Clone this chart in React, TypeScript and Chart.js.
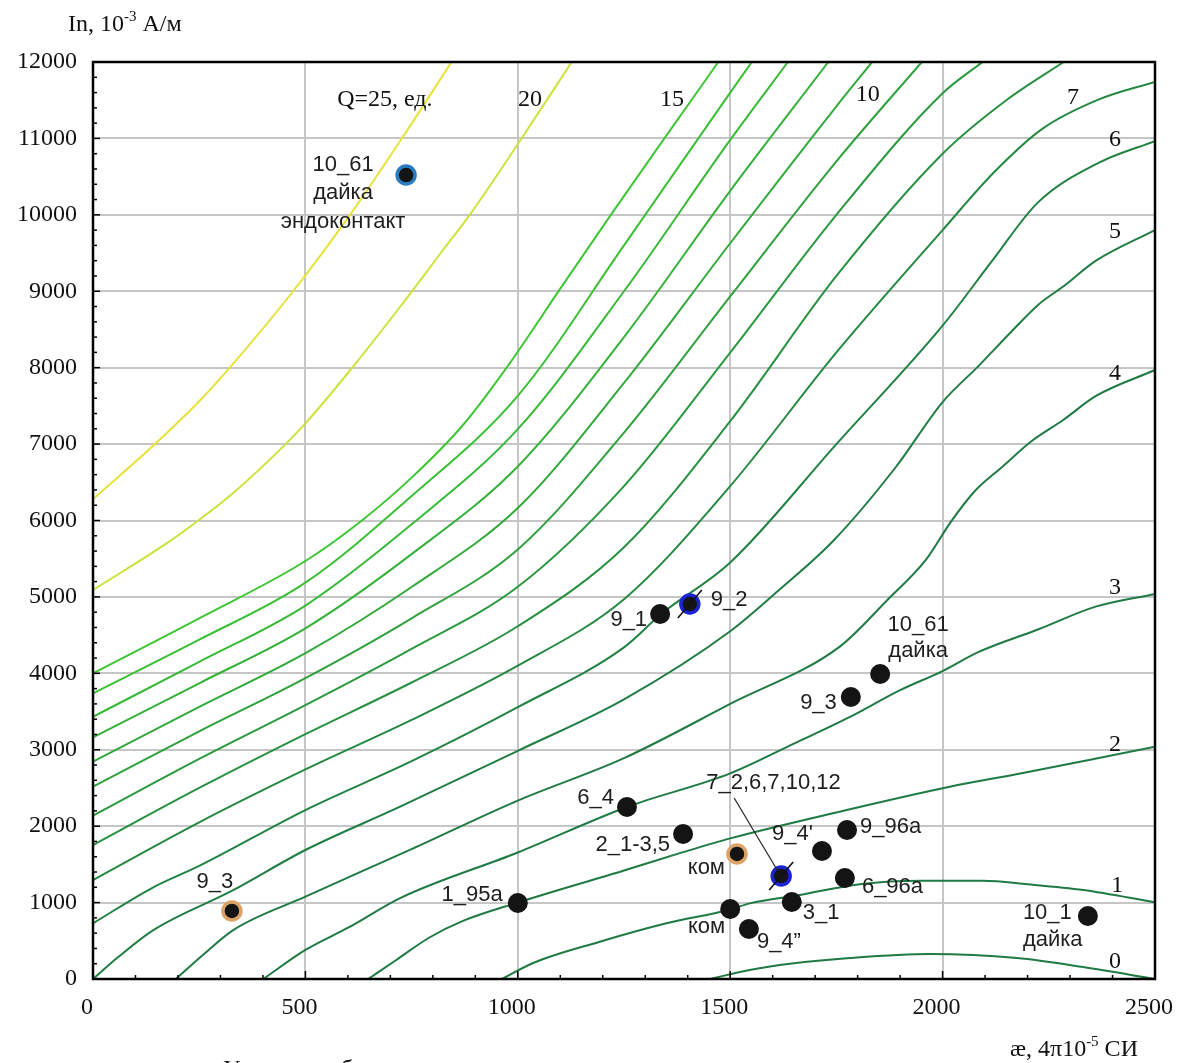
import React, { useEffect, useRef } from "react";
import { Chart, registerables } from "chart.js";

Chart.register(...registerables);

const SERIF = '"Liberation Serif", "Times New Roman", serif';
const SANS = '"Liberation Sans", Arial, sans-serif';

// ---- Q-curves (x = æ, y = In) ----
const Q0: number[][] = [[1452, 0], [1546, 118], [1650, 205], [1782, 275], [1970, 327], [2175, 275], [2331, 157], [2500, 0]];
const Q1: number[][] = [[963, 0], [1036, 209], [1193, 488], [1350, 729], [1500, 910], [1546, 990], [1664, 1100], [1805, 1240], [1950, 1285], [2095, 1285], [2200, 1240], [2331, 1165], [2500, 1004]];
const Q2: number[][] = [[648, 0], [713, 245], [792, 543], [871, 760], [1000, 1000], [1250, 1420], [1389, 1660], [1500, 1840], [1750, 2180], [2017, 2516], [2180, 2686], [2359, 2882], [2500, 3040]];
const Q3: number[][] = [[401, 0], [500, 380], [605, 684], [723, 1059], [1000, 1656], [1257, 2251], [1500, 2690], [1650, 3080], [1782, 3430], [1900, 3780], [2000, 4030], [2085, 4280], [2226, 4577], [2362, 4876], [2500, 5040]];
const Q4: number[][] = [[195, 0], [260, 320], [330, 640], [500, 1077], [750, 1700], [1000, 2335], [1250, 2890], [1500, 3600], [1758, 4350], [1870, 4960], [1960, 5480], [2019, 5979], [2077, 6392], [2143, 6714], [2209, 7036], [2283, 7312], [2362, 7633], [2500, 7969]];
const Q5: number[][] = [[0, 0], [60, 290], [142, 640], [330, 1163], [500, 1688], [723, 2255], [1000, 2986], [1250, 3660], [1500, 4550], [1617, 5100], [1744, 5742], [1890, 6700], [2000, 7550], [2085, 8024], [2160, 8460], [2226, 8828], [2283, 9058], [2362, 9403], [2500, 9800]];
const Q6: number[][] = [[0, 729], [142, 1200], [250, 1480], [500, 2211], [750, 2850], [1000, 3557], [1250, 4340], [1337, 4773], [1500, 5450], [1750, 7000], [2000, 8550], [2117, 9400], [2224, 10160], [2368, 10682], [2500, 10965]];
const Q7: number[][] = [[0, 1295], [250, 2050], [500, 2742], [750, 3390], [1000, 4100], [1250, 4970], [1500, 6450], [1750, 8200], [2000, 9800], [2120, 10550], [2233, 11118], [2368, 11510], [2500, 11740]];
const Q8: number[][] = [[0, 1753], [250, 2500], [500, 3204], [750, 3880], [1000, 4616], [1250, 5650], [1500, 7300], [1750, 9200], [2000, 10800], [2150, 11500], [2285, 12000]];
const Q9: number[][] = [[0, 2137], [250, 2880], [500, 3584], [750, 4320], [1000, 5132], [1250, 6450], [1500, 8198], [1750, 10000], [2000, 11590], [2094, 12000]];
const Q10: number[][] = [[0, 2517], [250, 3240], [500, 3937], [750, 4720], [1000, 5621], [1250, 7150], [1500, 8933], [1750, 10700], [1951, 12000]];
const Q11: number[][] = [[0, 2844], [250, 3560], [500, 4263], [750, 5130], [1000, 6164], [1250, 7800], [1500, 9628], [1750, 11420], [1834, 12000]];
const Q12: number[][] = [[0, 3162], [250, 3870], [500, 4589], [750, 5560], [1000, 6707], [1250, 8400], [1500, 10314], [1731, 12000]];
const Q13: number[][] = [[0, 3432], [250, 4150], [500, 4887], [750, 5950], [1000, 7196], [1250, 9000], [1500, 10980], [1636, 12000]];
const Q14: number[][] = [[0, 3738], [250, 4440], [500, 5186], [750, 6320], [1000, 7631], [1250, 9600], [1500, 11600], [1551, 12000]];
const Q15: number[][] = [[0, 4000], [250, 4720], [500, 5470], [633, 6001], [752, 6571], [871, 7250], [975, 8011], [1102, 9050], [1219, 10000], [1345, 11000], [1472, 12000]];
const Q20: number[][] = [[0, 5090], [173, 5700], [248, 6000], [330, 6360], [450, 6980], [500, 7270], [612, 8012], [723, 8797], [824, 9540], [887, 10000], [997, 10900], [1127, 12000]];
const Q25: number[][] = [[0, 6280], [146, 7000], [250, 7560], [322, 8000], [471, 9000], [605, 10000], [727, 11000], [844, 12000]];

const curveList = [Q0, Q1, Q2, Q3, Q4, Q5, Q6, Q7, Q8, Q9, Q10, Q11, Q12, Q13, Q14, Q15, Q20, Q25];
const curveColors = [
  "#1f7a44", "#1f7a44", "#1f7a44", "#1f7a44", "#1f7a44", "#207d44", "#228243", "#258942",
  "#289141", "#2b993f", "#2fa13d", "#32a93b", "#35b139", "#38b937", "#3bc035", "#3ec634",
  "#cde33c", "#e8e23a",
];

// curve labels
const curveLabelText = ["Q=25, ед.", "20", "15", "10", "7", "6", "5", "4", "3", "2", "1", "0"];
const curveLabelX = [687, 1029, 1363, 1824, 2307, 2406, 2406, 2406, 2406, 2406, 2411, 2406];
const curveLabelY = [11502, 11502, 11502, 11567, 11528, 10979, 9775, 7917, 5117, 3070, 1215, 220];

// ---- samples ----
const sampleX = [737, 1335, 1405, 1853, 1784, 1257, 1389, 1516, 1620, 1716, 1775, 1770, 1645, 1500, 1544, 2342, 1000, 327];
const sampleY = [10521, 4776, 4907, 3991, 3690, 2251, 1897, 1636, 1348, 1675, 1950, 1322, 1008, 916, 654, 824, 995, 890];
const sampleRing = ["endo", "", "blue", "", "", "", "", "orange", "blue", "", "", "", "", "", "", "", "", "orange"];
const sampleText: string[][] = [
  ["10_61", "дайка", "эндоконтакт"], ["9_1"], ["9_2"], ["10_61", "дайка"], ["9_3"], ["6_4"], ["2_1-3,5"], ["ком"],
  ["7_2,6,7,10,12"], ["9_4'"], ["9_96а"], ["6_96а"], ["3_1"], ["ком"], ["9_4”"], ["10_1", "дайка"], ["1_95а"], ["9_3"],
];
// label placement (pixels relative to marker)
const labelLayout: { dx: number; dy: number[]; align: CanvasTextAlign }[] = [
  { dx: -63, dy: [-10, 18, 47], align: "center" },
  { dx: -13, dy: [6], align: "right" },
  { dx: 21, dy: [-4], align: "left" },
  { dx: 38, dy: [-49, -23], align: "center" },
  { dx: -14, dy: [6], align: "right" },
  { dx: -13, dy: [-9], align: "right" },
  { dx: -13, dy: [11], align: "right" },
  { dx: -12, dy: [14], align: "right" },
  { dx: -75, dy: [-93], align: "left" },
  { dx: -9, dy: [-17], align: "right" },
  { dx: 13, dy: [-3], align: "left" },
  { dx: 17, dy: [9], align: "left" },
  { dx: 11, dy: [11], align: "left" },
  { dx: -5, dy: [18], align: "right" },
  { dx: 8, dy: [13], align: "left" },
  { dx: -65, dy: [-3, 24], align: "left" },
  { dx: -15, dy: [-8], align: "right" },
  { dx: -17, dy: [-29], align: "center" },
];

const ringColor: Record<string, string> = { endo: "#2a7cc2", blue: "#1c22d6", orange: "#dca266" };

const overlay = {
  id: "overlay",
  afterDatasetsDraw(chart: any) {
    const { ctx, chartArea: a, scales } = chart;
    const xs = scales.x;
    const ys = scales.y;
    ctx.save();

    // leader line for 7_2
    {
      const px = xs.getPixelForValue(sampleX[8]);
      const py = ys.getPixelForValue(sampleY[8]);
      ctx.strokeStyle = "#222";
      ctx.lineWidth = 1.2;
      ctx.beginPath();
      ctx.moveTo(px - 47, py - 78);
      ctx.lineTo(px - 4, py - 6);
      ctx.stroke();
    }
    // slash marks on blue-ringed markers
    sampleRing.forEach((r, i) => {
      if (r !== "blue") return;
      const px = xs.getPixelForValue(sampleX[i]);
      const py = ys.getPixelForValue(sampleY[i]);
      ctx.strokeStyle = "#111";
      ctx.lineWidth = 1.6;
      ctx.beginPath();
      ctx.moveTo(px - 12, py + 14);
      ctx.lineTo(px + 12, py - 14);
      ctx.stroke();
    });

    // minor / major ticks
    ctx.strokeStyle = "#000";
    ctx.lineWidth = 1.5;
    for (let v = 100; v < 2500; v += 100) {
      const px = xs.getPixelForValue(v);
      const len = v % 500 === 0 ? 8 : 4;
      ctx.beginPath();
      ctx.moveTo(px, a.bottom);
      ctx.lineTo(px, a.bottom - len);
      ctx.stroke();
    }
    for (let v = 200; v < 12000; v += 200) {
      const py = ys.getPixelForValue(v);
      const len = v % 1000 === 0 ? 7 : 4;
      ctx.beginPath();
      ctx.moveTo(a.left, py);
      ctx.lineTo(a.left + len, py);
      ctx.stroke();
    }
    // frame
    ctx.lineWidth = 2.5;
    ctx.strokeRect(a.left, a.top, a.right - a.left, a.bottom - a.top);

    // curve labels
    ctx.fillStyle = "#111";
    ctx.textBaseline = "middle";
    ctx.textAlign = "center";
    ctx.font = `24px ${SERIF}`;
    curveLabelText.forEach((t, i) => {
      ctx.fillText(t, xs.getPixelForValue(curveLabelX[i]), ys.getPixelForValue(curveLabelY[i]));
    });

    // sample labels
    ctx.font = `22px ${SANS}`;
    ctx.fillStyle = "#1e1e1e";
    sampleText.forEach((lines, i) => {
      const px = xs.getPixelForValue(sampleX[i]);
      const py = ys.getPixelForValue(sampleY[i]);
      const L = labelLayout[i];
      ctx.textAlign = L.align;
      lines.forEach((s, k) => ctx.fillText(s, px + L.dx, py + L.dy[k]));
    });

    // axis titles
    ctx.fillStyle = "#111";
    ctx.textAlign = "left";
    ctx.textBaseline = "alphabetic";
    const drawSup = (x0: number, base: number, parts: [string, boolean][]) => {
      let x = x0;
      parts.forEach(([s, sup]) => {
        ctx.font = sup ? `15px ${SERIF}` : `24px ${SERIF}`;
        ctx.fillText(s, x, sup ? base - 10 : base);
        x += ctx.measureText(s).width;
      });
    };
    drawSup(68, 31, [["In, 10", false], ["-3", true], [" А/м", false]]);
    drawSup(1010, 1056, [["æ, 4π10", false], ["-5", true], [" СИ", false]]);
    ctx.font = `24px ${SERIF}`;
    ctx.fillText("Условные обозначения", 223, 1076);
    ctx.restore();
  },
};

export default function App() {
  const ref = useRef<HTMLCanvasElement>(null);
  useEffect(() => {
    const curveSets = curveList.map((pts, i) => ({
      type: "line" as const,
      data: pts.map(([x, y]) => ({ x, y })),
      borderColor: curveColors[i],
      borderWidth: 2,
      pointRadius: 0,
      fill: false,
      cubicInterpolationMode: "monotone" as const,
      order: 2,
    }));
    const pointSet = {
      type: "scatter" as const,
      data: sampleX.map((x, i) => ({ x, y: sampleY[i] })),
      pointRadius: sampleRing.map((r) => (r ? 9 : 10)),
      pointBackgroundColor: "#141414",
      pointBorderColor: sampleRing.map((r) => (r ? ringColor[r] : "#141414")),
      pointBorderWidth: sampleRing.map((r) => (r ? 3.5 : 0)),
      showLine: false,
      order: 1,
    };
    const chart = new Chart(ref.current as HTMLCanvasElement, {
      type: "line",
      data: { datasets: [...curveSets, pointSet] as any },
      options: {
        animation: false,
        responsive: false,
        devicePixelRatio: 1,
        events: [],
        layout: { padding: { top: 62, right: 30, left: 0, bottom: 0 } },
        plugins: { legend: { display: false }, tooltip: { enabled: false } },
        scales: {
          x: {
            type: "linear",
            min: 0,
            max: 2500,
            afterFit: (s: any) => { s.height = 84; s.paddingLeft = 0; s.paddingRight = 0; },
            border: { display: false },
            grid: { color: "#c6c6c6", lineWidth: 2, drawTicks: false },
            ticks: { stepSize: 500, padding: 14, labelOffset: -6, color: "#111", font: { family: SERIF, size: 24 }, maxRotation: 0, autoSkip: false, callback: (v: any) => String(v) },
          },
          y: {
            type: "linear",
            min: 0,
            max: 12000,
            afterFit: (s: any) => { s.width = 93; s.paddingTop = 0; s.paddingBottom = 0; },
            border: { display: false },
            grid: { color: "#c6c6c6", lineWidth: 2, drawTicks: false },
            ticks: { stepSize: 1000, padding: 16, color: "#111", font: { family: SERIF, size: 24 }, autoSkip: false, callback: (v: any) => String(v) },
          },
        },
      },
      plugins: [overlay],
    } as any);
    return () => chart.destroy();
  }, []);
  return (
    <div style={{ position: "absolute", left: 0, top: 0, width: 1185, height: 1063, background: "#fff", overflow: "hidden" }}>
      <canvas ref={ref} width={1185} height={1063} style={{ display: "block", width: 1185, height: 1063 }} />
    </div>
  );
}
